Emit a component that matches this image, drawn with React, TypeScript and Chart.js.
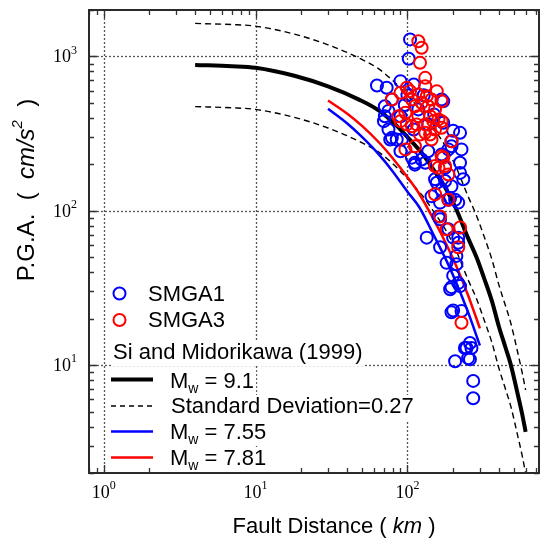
import React, { useEffect, useRef } from "react";
import { Chart, registerables } from "chart.js";

Chart.register(...registerables);

// ---------- data ----------
const curveDistance = [4, 7, 10, 18, 30, 48, 65, 85, 100, 125, 150, 180, 210, 250, 285, 320, 360, 400, 440, 480, 530, 570, 600];
const mw91PGA = [880, 865, 845, 750, 640, 525, 445, 355, 300, 235, 182, 138, 102, 67, 50, 36.5, 26, 17.8, 13.2, 10, 6.6, 4.8, 3.7];
const mw91UpperPGA = [1637, 1609, 1572, 1395, 1190, 977, 828, 660, 558, 437, 339, 257, 190, 125, 93, 68, 48.4, 33.1, 24.6, 18.6, 12.3, 8.9, 6.9];
const mw91LowerPGA = [473, 465, 454, 403, 344, 282, 239, 191, 161, 126, 97.8, 74.2, 54.8, 36, 26.9, 19.6, 14, 9.57, 7.1, 5.38, 3.55, 2.58, 1.99];

const smallDistance = [30, 40, 50, 65, 80, 100, 120, 150, 180, 210, 250, 300];
const mw755PGA = [458, 369, 302, 231, 180, 133, 105, 68.6, 47.9, 34.1, 22.2, 13.4];
const mw781PGA = [519, 427, 356, 277, 219, 165, 128, 86.5, 60.9, 43.7, 28.6, 17.3];

const smga1Distance = [
  104, 102, 63, 73, 90, 110, 71, 79, 71, 79, 92, 112, 131, 168, 195, 222, 222, 222, 152, 168,
  195, 186, 160, 134, 216, 186, 164, 200, 216, 181, 200, 195, 222, 210, 191, 216, 195, 227, 239, 258,
  264, 251, 206, 271, 271, 210, 164, 206, 200, 245, 258, 172, 77, 85, 90, 107, 112, 124, 137, 168,
  177, 156, 177, 191, 144, 164, 216, 233, 195, 70, 75, 172, 90, 96, 118, 137, 110, 75, 150, 128, 100,
  200, 186, 227,
];
const smga1PGA = [
  1290, 966, 649, 627, 692, 659, 476, 526, 410, 297, 290, 205, 205, 526, 262, 320, 205, 176, 160, 137,
  144, 118, 92, 67, 67, 76, 58, 67, 62, 46, 38, 32, 32.5, 45, 31, 34, 22, 22.4, 12.9, 13.9,
  12.9, 11.1, 10.6, 7.9, 6.1, 51, 88, 118, 22.6, 12.9, 10.9, 513, 290, 290, 243, 221, 199, 215, 243, 232,
  190, 152, 156, 121, 124, 113, 113, 160, 282, 381, 336, 372, 410, 485, 454, 363, 336, 444, 420, 560, 560,
  330, 250, 250,
];

const smga3Distance = [
  118, 124, 121, 131, 156, 168, 79, 97, 99, 97, 112, 131, 152, 168, 144, 195, 168, 152, 160, 177,
  152, 186, 164, 181, 222, 216, 227, 90, 121, 141, 148, 131, 172, 186, 168, 115, 104, 118, 134, 144,
  107, 124, 112, 137, 152, 90, 87, 118, 141, 160, 107, 131, 99,
];
const smga3PGA = [
  1256, 1138, 910, 727, 596, 513, 526, 432, 363, 250, 262, 320, 336, 345, 290, 282, 226, 195, 190, 195,
  128, 118, 92, 76, 78, 58, 18.8, 381, 312, 312, 381, 363, 221, 172, 381, 363, 596, 567, 553, 526,
  526, 501, 476, 476, 454, 582, 410, 410, 410, 391, 353, 642, 627,
];

const xMajorTicks = [1, 10, 100];
const xTickExponents = ["0", "1", "2"];
const yMajorTicks = [10, 100, 1000];
const yTickExponents = ["1", "2", "3"];

// ---------- drawing helpers ----------
const SANS = '"Liberation Sans", Arial, Helvetica, sans-serif';
const SERIF = '"Liberation Serif", "Times New Roman", serif';

type Seg = { t: string; f: string; dy?: number };

function segWidth(ctx: CanvasRenderingContext2D, segs: Seg[]) {
  let total = 0;
  const widths = segs.map((s) => {
    ctx.font = s.f;
    const w = ctx.measureText(s.t).width;
    total += w;
    return w;
  });
  return { total, widths };
}

function drawSegs(
  ctx: CanvasRenderingContext2D,
  segs: Seg[],
  x: number,
  y: number,
  align: "left" | "center" | "right",
  bg = false
) {
  const { total, widths } = segWidth(ctx, segs);
  let cx = align === "left" ? x : align === "center" ? x - total / 2 : x - total;
  if (bg) {
    ctx.fillStyle = "#fff";
    ctx.fillRect(cx - 2, y - 12, total + 4, 25);
  }
  ctx.fillStyle = "#000";
  ctx.textBaseline = "middle";
  ctx.textAlign = "left";
  segs.forEach((s, i) => {
    ctx.font = s.f;
    ctx.fillText(s.t, cx, y + (s.dy || 0));
    cx += widths[i];
  });
}

function minorValues(min: number, max: number) {
  const out: number[] = [];
  for (let e = -1; e <= 4; e++) {
    for (let m = 1; m <= 9; m++) {
      const v = m * Math.pow(10, e);
      if (v >= min * 0.999 && v <= max * 1.001) out.push(v);
    }
  }
  return out;
}

const framePlugin = {
  id: "framePlugin",
  beforeDatasetsDraw(chart: any) {
    const { ctx, chartArea: a, scales } = chart;
    const xs = scales.x;
    const ys = scales.y;
    ctx.save();
    ctx.strokeStyle = "#555";
    ctx.lineWidth = 1.3;
    ctx.setLineDash([2, 2]);
    xMajorTicks.forEach((v) => {
      const p = Math.round(xs.getPixelForValue(v)) + 0.5;
      ctx.beginPath();
      ctx.moveTo(p, a.top);
      ctx.lineTo(p, a.bottom);
      ctx.stroke();
    });
    yMajorTicks.forEach((v) => {
      const p = Math.round(ys.getPixelForValue(v)) + 0.5;
      ctx.beginPath();
      ctx.moveTo(a.left, p);
      ctx.lineTo(a.right, p);
      ctx.stroke();
    });
    ctx.restore();
  },
  afterDraw(chart: any) {
    const { ctx, chartArea: a, scales } = chart;
    const xs = scales.x;
    const ys = scales.y;
    ctx.save();
    ctx.setLineDash([]);
    // ticks (inward)
    ctx.strokeStyle = "#333";
    ctx.lineWidth = 1.3;
    minorValues(xs.min, xs.max).forEach((v) => {
      const major = xMajorTicks.includes(v);
      const len = major ? 8 : 5;
      const p = Math.round(xs.getPixelForValue(v)) + 0.5;
      ctx.beginPath();
      ctx.moveTo(p, a.bottom);
      ctx.lineTo(p, a.bottom - len);
      ctx.moveTo(p, a.top);
      ctx.lineTo(p, a.top + len);
      ctx.stroke();
    });
    minorValues(ys.min, ys.max).forEach((v) => {
      const major = yMajorTicks.includes(v);
      const len = major ? 8 : 5;
      const p = Math.round(ys.getPixelForValue(v)) + 0.5;
      ctx.beginPath();
      ctx.moveTo(a.left, p);
      ctx.lineTo(a.left + len, p);
      ctx.moveTo(a.right, p);
      ctx.lineTo(a.right - len, p);
      ctx.stroke();
    });
    // frame
    ctx.strokeStyle = "#2a2a2a";
    ctx.lineWidth = 2;
    ctx.strokeRect(a.left, a.top, a.right - a.left, a.bottom - a.top);

    // tick labels
    const base = `18px ${SERIF}`;
    const sup = `12px ${SERIF}`;
    xMajorTicks.forEach((v, i) => {
      const p = xs.getPixelForValue(v);
      drawSegs(ctx, [{ t: "10", f: base }, { t: xTickExponents[i], f: sup, dy: -7 }], p, a.bottom + 20, "center");
    });
    yMajorTicks.forEach((v, i) => {
      const p = ys.getPixelForValue(v);
      drawSegs(ctx, [{ t: "10", f: base }, { t: yTickExponents[i], f: sup, dy: -7 }], a.left - 12, p + 1, "right");
    });

    // axis titles
    const tf = `22px ${SANS}`;
    const tfi = `italic 22px ${SANS}`;
    drawSegs(
      ctx,
      [{ t: "Fault Distance ( ", f: tf }, { t: "km", f: tfi }, { t: " )", f: tf }],
      334,
      527,
      "center"
    );
    const yf = `24px ${SANS}`;
    const yfi = `italic 24px ${SANS}`;
    ctx.save();
    ctx.translate(27, 190);
    ctx.rotate(-Math.PI / 2);
    drawSegs(
      ctx,
      [
        { t: "P.G.A.  (  ", f: yf },
        { t: "cm/s", f: yfi },
        { t: "2", f: `italic 15px ${SANS}`, dy: -9 },
        { t: "  )", f: yf },
      ],
      0,
      0,
      "center"
    );
    ctx.restore();

    // legend
    const lf = `22px ${SANS}`;
    const lsub = `14px ${SANS}`;
    const circle = (x: number, y: number, c: string) => {
      ctx.beginPath();
      ctx.setLineDash([]);
      ctx.strokeStyle = c;
      ctx.lineWidth = 2;
      ctx.arc(x, y, 6, 0, Math.PI * 2);
      ctx.stroke();
    };
    const sample = (y: number, c: string, w: number, dash: number[]) => {
      ctx.beginPath();
      ctx.setLineDash(dash);
      ctx.strokeStyle = c;
      ctx.lineWidth = w;
      ctx.moveTo(111, y);
      ctx.lineTo(153, y);
      ctx.stroke();
      ctx.setLineDash([]);
    };
    circle(119.5, 293.5, "#0000ff");
    drawSegs(ctx, [{ t: "SMGA1", f: lf }], 148, 295, "left", true);
    circle(119.5, 320, "#ff0000");
    drawSegs(ctx, [{ t: "SMGA3", f: lf }], 148, 321, "left", true);
    drawSegs(ctx, [{ t: "Si and Midorikawa (1999)", f: lf }], 113, 353, "left", true);
    sample(379.5, "#000", 4, []);
    drawSegs(ctx, [{ t: "M", f: lf }, { t: "w", f: lsub, dy: 7 }, { t: " = 9.1", f: lf }], 170, 382, "left", true);
    sample(406, "#000", 1.3, [5, 4]);
    drawSegs(ctx, [{ t: "Standard Deviation=0.27", f: lf }], 171, 407, "left", true);
    sample(431.5, "#0000ff", 2.5, []);
    drawSegs(ctx, [{ t: "M", f: lf }, { t: "w", f: lsub, dy: 7 }, { t: " = 7.55", f: lf }], 170, 433, "left", true);
    sample(457.5, "#ff0000", 2.5, []);
    drawSegs(ctx, [{ t: "M", f: lf }, { t: "w", f: lsub, dy: 7 }, { t: " = 7.81", f: lf }], 170, 459, "left", true);
    ctx.restore();
  },
};

const toPoints = (xs: number[], ys: number[]) => xs.map((x, i) => ({ x, y: ys[i] }));

export default function App() {
  const ref = useRef<HTMLCanvasElement | null>(null);
  useEffect(() => {
    if (!ref.current) return;
    const lineDs = (label: string, xs: number[], ys: number[], color: string, width: number, order: number, dash: number[] = []) => ({
      label,
      data: toPoints(xs, ys),
      showLine: true,
      borderColor: color,
      backgroundColor: color,
      borderWidth: width,
      borderDash: dash,
      pointRadius: 0,
      cubicInterpolationMode: "monotone" as const,
      order,
    });
    const chart = new Chart(ref.current, {
      type: "scatter",
      data: {
        datasets: [
          {
            label: "SMGA3",
            data: toPoints(smga3Distance, smga3PGA),
            pointStyle: "circle",
            pointRadius: 6,
            pointBorderWidth: 2,
            borderColor: "#ff0000",
            backgroundColor: "rgba(0,0,0,0)",
            order: 0,
          },
          {
            label: "SMGA1",
            data: toPoints(smga1Distance, smga1PGA),
            pointStyle: "circle",
            pointRadius: 6,
            pointBorderWidth: 2,
            borderColor: "#0000ff",
            backgroundColor: "rgba(0,0,0,0)",
            order: 1,
          },
          lineDs("Mw = 7.81", smallDistance, mw781PGA, "#ff0000", 2.5, 2),
          lineDs("Mw = 7.55", smallDistance, mw755PGA, "#0000ff", 2.5, 3),
          lineDs("Mw = 9.1", curveDistance, mw91PGA, "#000000", 4, 4),
          lineDs("+SD", curveDistance, mw91UpperPGA, "#000000", 1.4, 5, [6, 4]),
          lineDs("-SD", curveDistance, mw91LowerPGA, "#000000", 1.4, 6, [6, 4]),
        ] as any,
      },
      options: {
        responsive: false,
        animation: false,
        events: [],
        layout: { padding: { left: 89, right: 6, top: 10, bottom: 71 } },
        plugins: { legend: { display: false }, tooltip: { enabled: false } },
        scales: {
          x: { type: "logarithmic", min: 0.8, max: 735, display: false },
          y: { type: "logarithmic", min: 2, max: 2000, display: false },
        },
      },
      plugins: [framePlugin],
    });
    return () => chart.destroy();
  }, []);
  return (
    <div style={{ position: "absolute", left: 0, top: 0, width: 547, height: 544, background: "#fff" }}>
      <canvas ref={ref} width={547} height={544} style={{ display: "block" }} />
    </div>
  );
}
